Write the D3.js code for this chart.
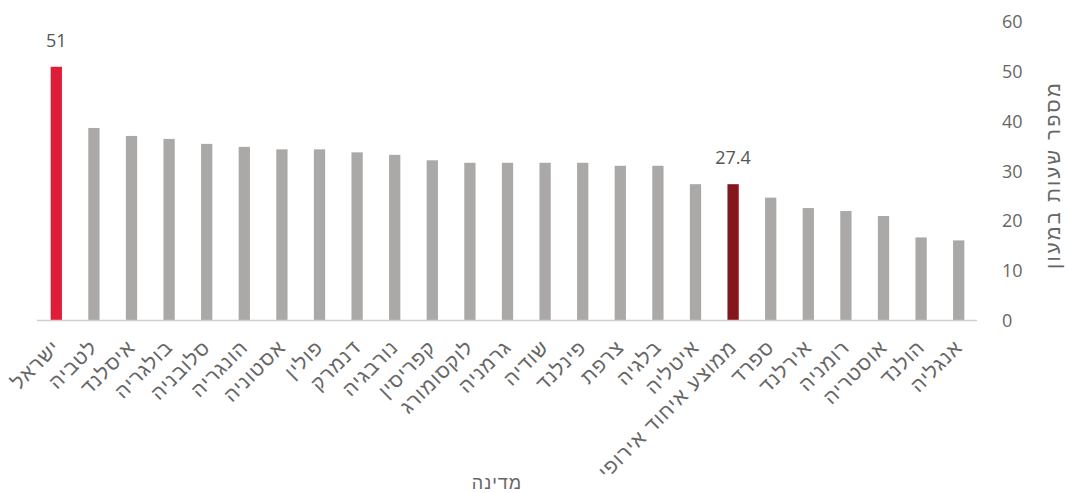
<!DOCTYPE html>
<html lang="he">
<head>
<meta charset="utf-8">
<script src="https://cdn.jsdelivr.net/npm/d3@7"></script>
<style>
  html, body { margin: 0; padding: 0; background: #fff; }
  svg { display: block; font-family: "Liberation Sans", "DejaVu Sans", sans-serif; }
</style>
</head>
<body>
<svg id="chart" width="1069" height="493"></svg>
<script>
// ---- data ----
const categories = ["ישראל","לטביה","איסלנד","בולגריה","סלובניה","הונגריה","אסטוניה","פולין","דנמרק","נורבגיה","קפריסין","לוקסומורג","גרמניה","שודיה","פינלנד","צרפת","בלגיה","איטליה","ממוצע איחוד אירופי","ספרד","אירלנד","רומניה","אוסטריה","הולנד","אנגליה"];
const values = [51, 38.7, 37.1, 36.5, 35.5, 34.9, 34.4, 34.4, 33.8, 33.3, 32.2, 31.7, 31.7, 31.7, 31.7, 31.1, 31.1, 27.4, 27.4, 24.7, 22.6, 22.0, 21.0, 16.7, 16.1];
const labeled = ["ישראל", "ממוצע איחוד אירופי"];
const yTicks = [0, 10, 20, 30, 40, 50, 60];
const yTitle = "מספר שעות במעון";
const xTitle = "מדינה";

const data = categories.map((c, i) => ({ c, v: values[i] }));

const svg = d3.select("#chart");
const x = d3.scaleBand().domain(categories).range([37.5, 977.5]).paddingInner(0.7).paddingOuter(0.35);
const y = d3.scaleLinear().domain([0, 60]).range([320.5, 22]);

const colorOf = c => c === "ישראל" ? "#e01d38" : (c === "ממוצע איחוד אירופי" ? "#85161c" : "#aaa9a7");

// bars
svg.append("g").selectAll("rect").data(data).join("rect")
  .attr("x", d => x(d.c))
  .attr("width", x.bandwidth())
  .attr("y", d => y(d.v))
  .attr("height", d => y(0) - y(d.v))
  .attr("fill", d => colorOf(d.c));

// baseline
svg.append("line")
  .attr("x1", 37).attr("x2", 977)
  .attr("y1", y(0)).attr("y2", y(0))
  .attr("stroke", "#cfcfcf").attr("stroke-width", 1.5);

// y axis (right side, no line)
const yAxis = svg.append("g")
  .attr("transform", "translate(1002,0)")
  .call(d3.axisRight(y).tickValues(yTicks).tickSize(0).tickPadding(0).tickFormat(d3.format("d")));
yAxis.select(".domain").remove();
yAxis.selectAll("text")
  .attr("fill", "#666").attr("font-size", 18)
  .attr("text-anchor", "start")
  .attr("font-family", "'Open Sans', 'DejaVu Sans', sans-serif");

// x axis labels
const xAxis = svg.append("g")
  .attr("transform", `translate(0,${y(0)})`)
  .call(d3.axisBottom(x).tickSize(0).tickPadding(0));
xAxis.select(".domain").remove();
xAxis.selectAll("text")
  .attr("fill", "#666").attr("font-size", 20)
  .attr("letter-spacing", 1.2)
  .attr("text-anchor", "end")
  .attr("dy", 0).attr("y", 0)
  .attr("transform", "translate(5,28) rotate(-45)")
  .attr("font-family", "'Liberation Sans', 'DejaVu Sans', sans-serif");

// value labels
svg.append("g").selectAll("text").data(data.filter(d => labeled.includes(d.c))).join("text")
  .attr("x", d => x(d.c) + x.bandwidth() / 2)
  .attr("y", d => y(d.v) - 20)
  .attr("text-anchor", "middle")
  .attr("fill", "#555").attr("font-size", 18)
  .attr("font-family", "'Open Sans', 'DejaVu Sans', sans-serif")
  .text(d => d.v);

// axis titles
svg.append("text")
  .attr("x", 497).attr("y", 489)
  .attr("text-anchor", "middle")
  .attr("fill", "#666").attr("font-size", 18)
  .attr("letter-spacing", 1)
  .text(xTitle);

svg.append("text")
  .attr("transform", "translate(1055,175) rotate(-90)")
  .attr("text-anchor", "middle")
  .attr("dominant-baseline", "middle")
  .attr("fill", "#666").attr("font-size", 20)
  .attr("letter-spacing", 2.3)
  .text(yTitle);
</script>
</body>
</html>
